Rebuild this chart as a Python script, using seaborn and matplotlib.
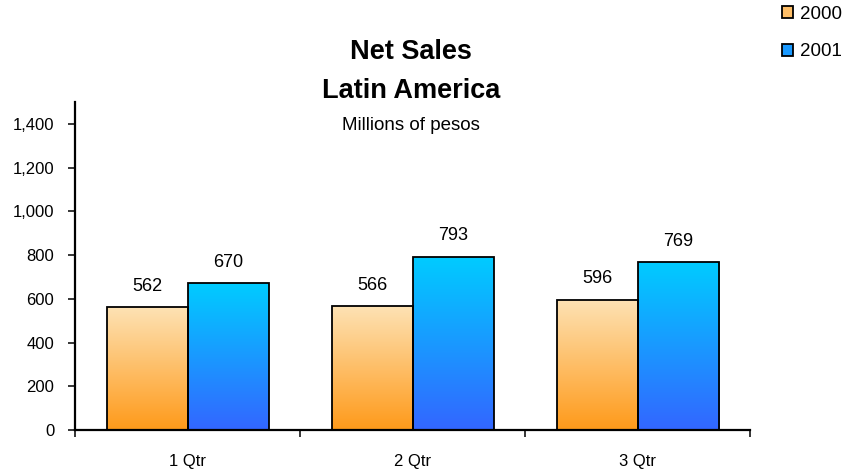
import numpy as np
import pandas as pd
import matplotlib
matplotlib.use("Agg")
import matplotlib.pyplot as plt
import seaborn as sns
from matplotlib.colors import LinearSegmentedColormap
from matplotlib.patches import Patch
from matplotlib.ticker import FuncFormatter, FixedLocator

quarters = ["1 Qtr", "2 Qtr", "3 Qtr"]
years = ["2000", "2001"]
sales_2000 = [562, 566, 596]
sales_2001 = [670, 793, 769]

df = pd.DataFrame({
    "Quarter": quarters * 2,
    "Year": [years[0]] * 3 + [years[1]] * 3,
    "Sales": sales_2000 + sales_2001,
})

sns.set_style("white")
plt.rcParams['font.family'] = ['Liberation Sans', 'DejaVu Sans']

fig = plt.figure(figsize=(8.46, 4.69), dpi=100)
ax = fig.add_axes([75/846, 1 - 430/469, (750-75)/846, (430-102)/469])

grad = {
    "2000": LinearSegmentedColormap.from_list("o", ["#FF9A1A", "#FDE2B4"]),
    "2001": LinearSegmentedColormap.from_list("b", ["#3366FF", "#00CCFF"]),
}
solid = {"2000": "#FFB050", "2001": "#1AA8FF"}

sns.barplot(data=df, x="Quarter", y="Sales", hue="Year", palette=solid,
            width=0.72, gap=0, ax=ax, legend=False, edgecolor="black",
            linewidth=1.3, saturation=1)

grad_img = np.linspace(0, 1, 256).reshape(-1, 1)
for container, yr in zip(ax.containers, years):
    for bar, val in zip(container.patches, df[df.Year == yr].Sales):
        x0 = bar.get_x(); w = bar.get_width(); h = bar.get_height()
        im = ax.imshow(grad_img, cmap=grad[yr], origin="lower", aspect="auto",
                       extent=[x0, x0 + w, 0, h], zorder=bar.get_zorder() + 0.1)
        im.set_clip_path(bar)
        bar.set_facecolor("none")
        bar.set_zorder(bar.get_zorder() + 0.2)
        ax.text(x0 + w / 2, h + 95, f"{val:d}", ha="center", va="center",
                fontsize=13, color="black")

ax.set_xlim(-0.5, 2.5)
ax.set_ylim(0, 1500)

ax.yaxis.set_major_locator(FixedLocator(range(0, 1401, 200)))
ax.yaxis.set_major_formatter(FuncFormatter(lambda v, p: f"{int(v):,}"))
ax.set_xticks([0, 1, 2])
ax.set_xticklabels(quarters)
ax.xaxis.set_minor_locator(FixedLocator([-0.5, 0.5, 1.5, 2.5]))
ax.tick_params(axis="x", which="major", length=0, pad=17, labelsize=12, labelcolor="black")
ax.tick_params(axis="x", which="minor", length=5, width=1.3, direction="out", bottom=True)
ax.tick_params(axis="y", length=5, width=1.3, direction="out", left=True, labelsize=12,
               pad=10, labelcolor="black")
ax.set_xlabel("")
ax.set_ylabel("")
for s in ["top", "right"]:
    ax.spines[s].set_visible(False)
for s in ["left", "bottom"]:
    ax.spines[s].set_linewidth(1.6)
    ax.spines[s].set_color("black")

fig.text(411/846, 1 - 52/469, "Net Sales", ha="center", va="center",
         fontsize=19.5, fontweight="bold", color="black")
fig.text(411/846, 1 - 91/469, "Latin America", ha="center", va="center",
         fontsize=19.5, fontweight="bold", color="black")
fig.text(411/846, 1 - 125/469, "Millions of pesos", ha="center", va="center",
         fontsize=13.5, color="black")

handles = [Patch(facecolor=grad[y](0.5), edgecolor="black", linewidth=1.3) for y in years]
leg = fig.legend(handles, years, loc="upper left", bbox_to_anchor=(778/846, 1 - 2/469),
                 frameon=False, fontsize=13.5, handlelength=0.6, handleheight=0.6,
                 handletextpad=0.35, labelspacing=1.1, borderaxespad=0, borderpad=0.2)
for t in leg.get_texts():
    t.set_color("black")

fig.savefig("out.png", dpi=100)
